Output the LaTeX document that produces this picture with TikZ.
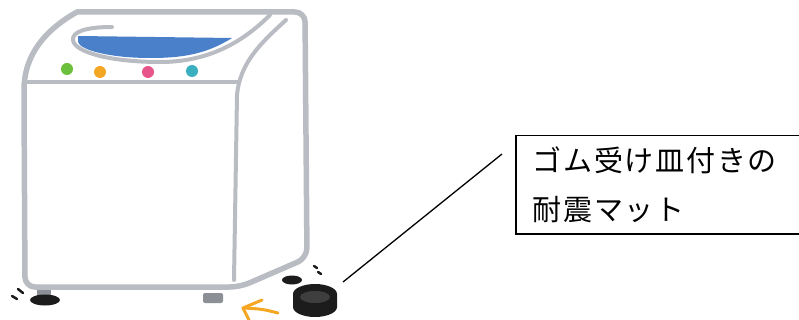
\documentclass[tikz,border=0pt]{standalone}
\usepackage{fontspec}
\newfontfamily\jpfont[LetterSpace=6]{Noto Sans CJK JP}
\definecolor{bodygray}{HTML}{B9BDC3}
\definecolor{lidblue}{HTML}{4A7FC9}
\definecolor{btngreen}{HTML}{6BBF3B}
\definecolor{btnorange}{HTML}{F5A623}
\definecolor{btnpink}{HTML}{E8548C}
\definecolor{btnteal}{HTML}{3AAFBF}
\definecolor{footgray}{HTML}{8C9096}
\definecolor{matblack}{HTML}{1C1C1C}
\definecolor{matinner}{HTML}{3E3E3E}
\begin{document}
\begin{tikzpicture}[x=1pt,y=-1pt,
    outline/.style={draw=bodygray, line width=5.5pt, line join=round},
    inner/.style={draw=bodygray, line width=4pt, line cap=round},
    shake/.style={draw=matblack, line width=2.5pt, line cap=round},
    calloutbox/.style={draw, line width=1.5pt, anchor=north west, align=left,
        text width=262pt, inner xsep=17pt, minimum height=98pt,
        font=\jpfont\fontsize{29}{49}\selectfont}]
    \useasboundingbox (0,0) rectangle (799,320);
    % Feet under the body
    \fill[footgray] (37,287) rectangle (51,297);
    \fill[matblack] (45,300) ellipse [x radius=15, y radius=5.5];
    \fill[footgray, rounded corners=2pt] (203,293) rectangle (223,303);
    \fill[matblack] (292,280) ellipse [x radius=10, y radius=4.5];
    % Body
    \draw[outline, fill=white, rounded corners=10pt] (77,12) -- (305,12) -- (307,258)
        -- (240,287) -- (25,287) -- (24,100) [sharp corners]
        .. controls (24,55) and (45,30) .. cycle;
    \draw[inner] (286,20) .. controls (262,42) and (240,62) .. (237,95) -- (234,280);
    \draw[inner] (25,82) -- (237,82);
    % Lid
    \fill[lidblue] (78,36) -- (232,38) .. controls (205,55) and (180,58) .. (150,58)
        .. controls (110,58) and (80,50) .. (78,42) -- cycle;
    \draw[inner] (112,27) .. controls (85,27) and (72,32) .. (73,40)
        .. controls (74,52) and (110,62) .. (160,62)
        .. controls (205,62) and (240,45) .. (270,15);
    % Buttons
    \fill[btngreen] (67,69) circle (6);
    \fill[btnorange] (100,72) circle (6);
    \fill[btnpink] (148,72) circle (6);
    \fill[btnteal] (192,71) circle (6);
    % Shake marks
    \draw[shake] (12,296) -- (17,299);
    \draw[shake] (18,289) -- (23,293);
    \draw[shake] (314,266) -- (317,268);
    \draw[shake] (318,272) -- (321,274);
    % Mat with rubber dish
    \fill[matblack] (293,294) -- (293,307) arc[start angle=180, end angle=0,
        x radius=22, y radius=10] -- (337,294) -- cycle;
    \fill[matblack] (315,294) ellipse [x radius=22, y radius=10];
    \fill[matinner] (315,297) ellipse [x radius=15, y radius=6];
    % Arrow towards the foot
    \draw[btnorange, line width=3pt, line cap=round]
        (278,313) .. controls (262,309) .. (243,308);
    \draw[btnorange, line width=3pt, line cap=round, line join=round]
        (262,300) -- (243,308) -- (249,320);
    % Callout
    \node[calloutbox] (callout) at (515,135) {ゴム受け皿付きの\\耐震マット};
    \coordinate (matTip) at (343,282);
    \coordinate (calloutTip) at (502,154);
    \draw[line width=1.3pt] (matTip) -- (calloutTip);
\end{tikzpicture}
\end{document}
